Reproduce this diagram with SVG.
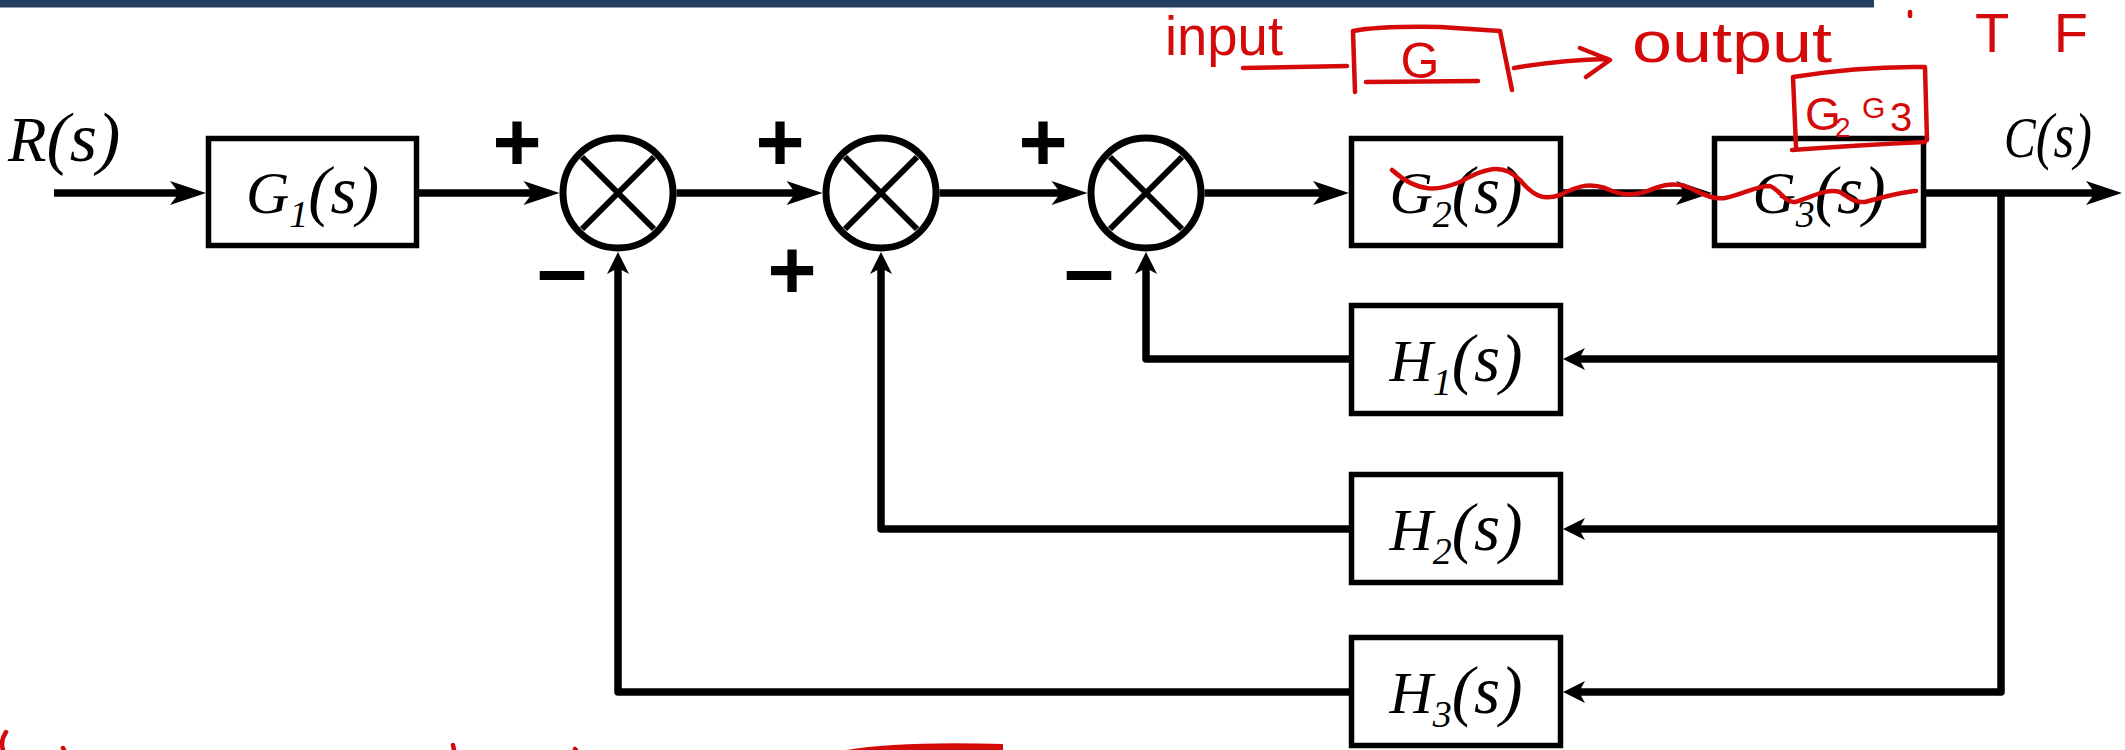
<svg xmlns="http://www.w3.org/2000/svg" width="2125" height="750" viewBox="0 0 2125 750">
<style>
.box{fill:#fff;stroke:#000;stroke-width:5.5}
.sj{fill:#fff;stroke:#000;stroke-width:7}
.x{stroke:#000;stroke-width:6;fill:none}
.wire{fill:none;stroke:#000;stroke-width:7.5;stroke-linejoin:round}
.lbl{font-family:"Liberation Serif","Times New Roman",serif;font-style:italic;font-size:60px;fill:#000}
.sub{font-size:38px}
.arg{font-size:67px}
.sign{font-family:"Liberation Sans",Arial,sans-serif;font-weight:bold;fill:#000}
.red{fill:none;stroke:#d40a0a;stroke-width:4.5;stroke-linecap:round;stroke-linejoin:round}
.redt{font-family:"Liberation Sans",Arial,sans-serif;fill:#d40a0a}
</style>
<defs>
<marker id="arrL" markerUnits="userSpaceOnUse" viewBox="-17 -13 38 26" markerWidth="38" markerHeight="26" refX="0" refY="0" orient="auto" overflow="visible">
<path d="M20,0 L-16,-12 L-7,0 L-16,12 Z" fill="#000"/>
</marker>
<marker id="arrS" markerUnits="userSpaceOnUse" viewBox="-11 -12 24 24" markerWidth="24" markerHeight="24" refX="0" refY="0" orient="auto" overflow="visible">
<path d="M12,0 L-10,-11 L-4,0 L-10,11 Z" fill="#000"/>
</marker>
</defs>
<rect x="0" y="0" width="1874" height="7.5" fill="#243f60"/>

<g id="connectors">
<path class="wire" d="M54,193 L186,193" marker-end="url(#arrL)"/>
<path class="wire" d="M419,193 L539.5,193" marker-end="url(#arrL)"/>
<path class="wire" d="M676.5,193 L802.5,193" marker-end="url(#arrL)"/>
<path class="wire" d="M939.5,193 L1067.5,193" marker-end="url(#arrL)"/>
<path class="wire" d="M1204.5,193 L1329,193" marker-end="url(#arrL)"/>
<path class="wire" d="M1563,193 L1692,193" marker-end="url(#arrL)"/>
<path class="wire" d="M1926,193 L2102,193" marker-end="url(#arrL)"/>
<path class="wire" d="M2001,193 L2001,692 L1575,692" marker-end="url(#arrS)"/>
<path class="wire" d="M2001,359 L1575,359" marker-end="url(#arrS)"/>
<path class="wire" d="M2001,529 L1575,529" marker-end="url(#arrS)"/>
<path class="wire" d="M1349,359 L1146,359 L1146,264" marker-end="url(#arrS)"/>
<path class="wire" d="M1349,529 L881,529 L881,264" marker-end="url(#arrS)"/>
<path class="wire" d="M1349,692 L618,692 L618,264" marker-end="url(#arrS)"/>
</g>

<g id="signal-R"><text class="lbl" x="8" y="161" style="font-size:63px">R<tspan style="font-size:70px">(s)</tspan></text></g>
<g id="signal-C"><text class="lbl" x="2004" y="157" style="font-size:57px" textLength="88" lengthAdjust="spacingAndGlyphs">C<tspan style="font-size:64px">(s)</tspan></text></g>

<g id="node-G1">
<rect class="box" x="208.5" y="138.5" width="208" height="107"/>
<text class="lbl" x="312.5" y="213" text-anchor="middle">G<tspan class="sub" dy="14">1</tspan><tspan class="arg" dy="-14">(s)</tspan></text>
</g>
<g id="node-S1">
<circle class="sj" cx="618" cy="193" r="55"/>
<path class="x" d="M582,157 L654,229 M654,157 L582,229"/>
<text class="sign" x="517" y="171" font-size="84" text-anchor="middle">+</text>
<text class="sign" x="562" y="300" font-size="90" text-anchor="middle">–</text>
</g>
<g id="node-S2">
<circle class="sj" cx="881" cy="193" r="55"/>
<path class="x" d="M845,157 L917,229 M917,157 L845,229"/>
<text class="sign" x="780" y="171" font-size="84" text-anchor="middle">+</text>
<text class="sign" x="792" y="299" font-size="84" text-anchor="middle">+</text>
</g>
<g id="node-S3">
<circle class="sj" cx="1146" cy="193" r="55"/>
<path class="x" d="M1110,157 L1182,229 M1182,157 L1110,229"/>
<text class="sign" x="1043" y="171" font-size="84" text-anchor="middle">+</text>
<text class="sign" x="1089" y="300" font-size="90" text-anchor="middle">–</text>
</g>
<g id="node-G2">
<rect class="box" x="1351.5" y="138.5" width="209" height="107"/>
<text class="lbl" x="1456" y="213" text-anchor="middle">G<tspan class="sub" dy="14">2</tspan><tspan class="arg" dy="-14">(s)</tspan></text>
</g>
<g id="node-G3">
<rect class="box" x="1714.5" y="138.5" width="209" height="107"/>
<text class="lbl" x="1819" y="213" text-anchor="middle">G<tspan class="sub" dy="14">3</tspan><tspan class="arg" dy="-14">(s)</tspan></text>
</g>
<g id="node-H1">
<rect class="box" x="1351.5" y="305.5" width="209" height="108"/>
<text class="lbl" x="1456" y="381" text-anchor="middle">H<tspan class="sub" dy="14">1</tspan><tspan class="arg" dy="-14">(s)</tspan></text>
</g>
<g id="node-H2">
<rect class="box" x="1351.5" y="474.5" width="209" height="108"/>
<text class="lbl" x="1456" y="550" text-anchor="middle">H<tspan class="sub" dy="14">2</tspan><tspan class="arg" dy="-14">(s)</tspan></text>
</g>
<g id="node-H3">
<rect class="box" x="1351.5" y="637.5" width="209" height="108"/>
<text class="lbl" x="1456" y="713" text-anchor="middle">H<tspan class="sub" dy="14">3</tspan><tspan class="arg" dy="-14">(s)</tspan></text>
</g>

<g id="annotations">
<text class="redt" x="1165" y="55" font-size="56" textLength="118" lengthAdjust="spacingAndGlyphs">input</text>
<path class="red" d="M1243,68 L1347,66 M1353,32 L1355,92 M1353,31 Q1380,26 1440,27 L1500,31 L1512,90 M1366,82 L1478,81"/>
<text class="redt" x="1420" y="78" font-size="50" text-anchor="middle">G</text>
<path class="red" d="M1514,68 Q1560,60 1608,59 M1580,48 L1610,60 L1586,77"/>
<text class="redt" x="1632" y="62" font-size="58" textLength="200" lengthAdjust="spacingAndGlyphs">output</text>
<path class="red" d="M1910,12 L1910,16"/>
<text class="redt" x="1975" y="52" font-size="56" textLength="113" lengthAdjust="spacing">TF</text>
<path class="red" d="M1793,77 L1796,147 M1793,77 Q1860,66 1925,67 L1927,140 M1792,150 Q1860,145 1925,142"/>
<text class="redt"><tspan x="1805" y="130" font-size="46">G</tspan><tspan x="1835" y="137" font-size="28">2</tspan><tspan x="1862" y="118" font-size="30">G</tspan><tspan x="1890" y="131" font-size="40">3</tspan></text>
<path class="red" d="M1392,170 C1420,195 1440,190 1460,182 C1490,165 1505,165 1520,180 C1535,198 1545,200 1560,195 C1580,185 1590,183 1605,188 C1620,195 1630,196 1645,192 C1660,186 1670,182 1685,186 C1700,192 1710,200 1725,198 C1745,194 1755,186 1770,186 C1780,190 1785,203 1795,202 C1810,198 1825,188 1840,192 C1850,198 1855,203 1865,202 C1880,198 1900,192 1916,191"/>
<path class="red" d="M6,732 Q0,741 3,750 M63,748 L64,750 M453,745 L454,750 M575,749 L576,750"/>
<path d="M846,750 Q900,741 1003,744 L1003,750 Z" fill="#d40a0a"/>
</g>
</svg>
